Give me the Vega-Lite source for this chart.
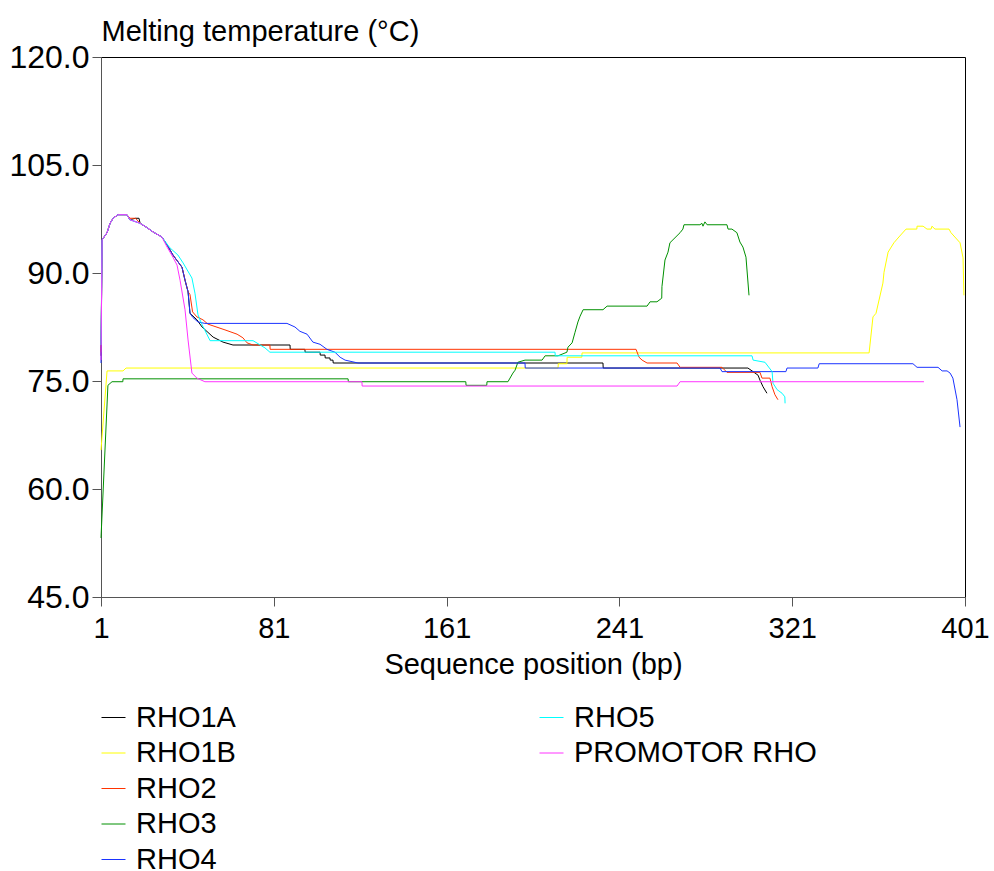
{
  "$schema": "https://vega.github.io/schema/vega-lite/v6.json",
  "width": 864,
  "height": 540,
  "autosize": {"type": "none"},
  "padding": {"left": 101, "top": 57, "right": 29, "bottom": 274},
  "config": {
    "view": {"stroke": "#000", "strokeWidth": 1},
    "font": "Liberation Sans",
    "axis": {"grid": false, "domainColor": "#555", "tickColor": "#555", "labelFont": "Liberation Sans", "labelFontSize": 29, "labelColor": "#000", "titleFont": "Liberation Sans", "titleFontSize": 29, "titleFontWeight": "normal", "titleColor": "#000", "tickSize": 9},
    "legend": {"symbolType": "stroke", "symbolSize": 576, "symbolStrokeWidth": 1, "labelFont": "Liberation Sans", "labelFontSize": 29, "labelColor": "#000", "rowPadding": 5.5, "labelOffset": 8, "labelLimit": 500, "title": null}
  },
  "datasets": {
    "tm": [
      {"s":"RHO1A","p":1,"t":78.5},{"s":"RHO1A","p":1.5,"t":94.6},{"s":"RHO1A","p":3.8,"t":95.6},{"s":"RHO1A","p":5.2,"t":96.9},{"s":"RHO1A","p":6.6,"t":97.6},{"s":"RHO1A","p":8.9,"t":98.1},{"s":"RHO1A","p":13.0,"t":98.1},{"s":"RHO1A","p":14.4,"t":97.4},{"s":"RHO1A","p":17.0,"t":97.6},{"s":"RHO1A","p":18.6,"t":97.6},{"s":"RHO1A","p":19.1,"t":96.9},{"s":"RHO1A","p":22.3,"t":96.3},{"s":"RHO1A","p":25.1,"t":95.7},{"s":"RHO1A","p":29.2,"t":95.0},{"s":"RHO1A","p":31.6,"t":93.9},{"s":"RHO1A","p":34.3,"t":92.5},{"s":"RHO1A","p":38.5,"t":90.8},{"s":"RHO1A","p":39.9,"t":89.0},{"s":"RHO1A","p":41.3,"t":87.4},{"s":"RHO1A","p":42.2,"t":84.4},{"s":"RHO1A","p":45.4,"t":83.5},{"s":"RHO1A","p":47.8,"t":82.5},{"s":"RHO1A","p":52.9,"t":81.1},{"s":"RHO1A","p":57.5,"t":80.4},{"s":"RHO1A","p":62.1,"t":80.0},{"s":"RHO1A","p":88.5,"t":80.0},{"s":"RHO1A","p":88.6,"t":79.4},{"s":"RHO1A","p":95.4,"t":79.4},{"s":"RHO1A","p":95.5,"t":79.0},{"s":"RHO1A","p":102.4,"t":79.0},{"s":"RHO1A","p":102.5,"t":78.6},{"s":"RHO1A","p":104.7,"t":78.6},{"s":"RHO1A","p":104.8,"t":78.2},{"s":"RHO1A","p":107.0,"t":78.2},{"s":"RHO1A","p":107.1,"t":77.9},{"s":"RHO1A","p":108.4,"t":77.9},{"s":"RHO1A","p":108.5,"t":77.5},{"s":"RHO1A","p":233.4,"t":77.5},{"s":"RHO1A","p":233.5,"t":76.8},{"s":"RHO1A","p":300.5,"t":76.8},{"s":"RHO1A","p":302.4,"t":76.4},{"s":"RHO1A","p":305.2,"t":75.8},{"s":"RHO1A","p":306.1,"t":75.1},{"s":"RHO1A","p":307.5,"t":74.2},{"s":"RHO1A","p":309.3,"t":73.3},

      {"s":"RHO1B","p":1,"t":65.4},{"s":"RHO1B","p":3.8,"t":76.4},{"s":"RHO1B","p":11.2,"t":76.4},{"s":"RHO1B","p":12.6,"t":76.8},{"s":"RHO1B","p":212.6,"t":76.8},{"s":"RHO1B","p":212.7,"t":77.4},{"s":"RHO1B","p":216.7,"t":77.4},{"s":"RHO1B","p":216.8,"t":78.3},{"s":"RHO1B","p":223.6,"t":78.3},{"s":"RHO1B","p":223.7,"t":78.9},{"s":"RHO1B","p":356.6,"t":78.9},{"s":"RHO1B","p":358.4,"t":83.9},{"s":"RHO1B","p":359.8,"t":84.4},{"s":"RHO1B","p":363.0,"t":88.6},{"s":"RHO1B","p":363.5,"t":90.1},{"s":"RHO1B","p":365.4,"t":92.9},{"s":"RHO1B","p":368.1,"t":94.2},{"s":"RHO1B","p":370.4,"t":95.0},{"s":"RHO1B","p":373.7,"t":96.1},{"s":"RHO1B","p":378.7,"t":96.1},{"s":"RHO1B","p":378.8,"t":96.5},{"s":"RHO1B","p":381.6,"t":96.5},{"s":"RHO1B","p":383.4,"t":96.1},{"s":"RHO1B","p":385.3,"t":96.1},{"s":"RHO1B","p":385.7,"t":96.5},{"s":"RHO1B","p":387.1,"t":96.1},{"s":"RHO1B","p":393.6,"t":96.1},{"s":"RHO1B","p":394.5,"t":95.6},{"s":"RHO1B","p":398.7,"t":94.2},{"s":"RHO1B","p":400.1,"t":92.1},{"s":"RHO1B","p":400.5,"t":86.9},

      {"s":"RHO2","p":1,"t":79.0},{"s":"RHO2","p":1.5,"t":94.6},{"s":"RHO2","p":3.8,"t":95.6},{"s":"RHO2","p":5.2,"t":96.9},{"s":"RHO2","p":6.6,"t":97.6},{"s":"RHO2","p":8.9,"t":98.1},{"s":"RHO2","p":13.0,"t":98.1},{"s":"RHO2","p":14.4,"t":97.6},{"s":"RHO2","p":17.0,"t":97.6},{"s":"RHO2","p":19.1,"t":96.9},{"s":"RHO2","p":22.3,"t":96.3},{"s":"RHO2","p":25.1,"t":95.7},{"s":"RHO2","p":29.2,"t":95.0},{"s":"RHO2","p":31.6,"t":93.9},{"s":"RHO2","p":34.3,"t":92.5},{"s":"RHO2","p":38.5,"t":90.8},{"s":"RHO2","p":39.9,"t":89.0},{"s":"RHO2","p":41.3,"t":87.4},{"s":"RHO2","p":42.2,"t":87.0},{"s":"RHO2","p":43.4,"t":84.6},{"s":"RHO2","p":45.4,"t":83.9},{"s":"RHO2","p":48.2,"t":83.5},{"s":"RHO2","p":50.5,"t":82.9},{"s":"RHO2","p":58.4,"t":82.1},{"s":"RHO2","p":64.0,"t":81.5},{"s":"RHO2","p":66.7,"t":81.0},{"s":"RHO2","p":68.6,"t":80.3},{"s":"RHO2","p":71.4,"t":80.0},{"s":"RHO2","p":79.2,"t":80.0},{"s":"RHO2","p":79.3,"t":79.4},{"s":"RHO2","p":248.7,"t":79.4},{"s":"RHO2","p":250.1,"t":78.3},{"s":"RHO2","p":251.5,"t":77.9},{"s":"RHO2","p":253.8,"t":77.5},{"s":"RHO2","p":267.7,"t":77.5},{"s":"RHO2","p":269.1,"t":76.9},{"s":"RHO2","p":288.5,"t":76.9},{"s":"RHO2","p":290.8,"t":76.2},{"s":"RHO2","p":306.1,"t":76.2},{"s":"RHO2","p":307.0,"t":75.4},{"s":"RHO2","p":310.7,"t":75.4},{"s":"RHO2","p":311.7,"t":74.2},{"s":"RHO2","p":313.0,"t":73.1},{"s":"RHO2","p":314.4,"t":72.4},

      {"s":"RHO3","p":1,"t":53.2},{"s":"RHO3","p":4.2,"t":74.4},{"s":"RHO3","p":6.1,"t":74.9},{"s":"RHO3","p":11.1,"t":74.9},{"s":"RHO3","p":11.2,"t":75.3},{"s":"RHO3","p":115.4,"t":75.3},{"s":"RHO3","p":115.5,"t":74.9},{"s":"RHO3","p":169.9,"t":74.9},{"s":"RHO3","p":170.0,"t":74.4},{"s":"RHO3","p":179.6,"t":74.4},{"s":"RHO3","p":179.7,"t":74.9},{"s":"RHO3","p":189.4,"t":74.9},{"s":"RHO3","p":191.7,"t":76.1},{"s":"RHO3","p":192.7,"t":76.5},{"s":"RHO3","p":194.0,"t":77.6},{"s":"RHO3","p":197.3,"t":77.9},{"s":"RHO3","p":205.2,"t":77.9},{"s":"RHO3","p":206.6,"t":78.5},{"s":"RHO3","p":212.6,"t":78.5},{"s":"RHO3","p":216.7,"t":79.0},{"s":"RHO3","p":217.2,"t":79.7},{"s":"RHO3","p":219.1,"t":80.3},{"s":"RHO3","p":220.4,"t":81.7},{"s":"RHO3","p":221.8,"t":83.2},{"s":"RHO3","p":222.8,"t":84.0},{"s":"RHO3","p":224.2,"t":84.9},{"s":"RHO3","p":233.4,"t":84.9},{"s":"RHO3","p":235.3,"t":85.4},{"s":"RHO3","p":253.8,"t":85.4},{"s":"RHO3","p":255.2,"t":86.0},{"s":"RHO3","p":258.4,"t":86.0},{"s":"RHO3","p":260.6,"t":86.5},{"s":"RHO3","p":260.7,"t":88.1},{"s":"RHO3","p":262.1,"t":91.8},{"s":"RHO3","p":263.5,"t":92.9},{"s":"RHO3","p":264.4,"t":94.2},{"s":"RHO3","p":269.1,"t":95.6},{"s":"RHO3","p":270.4,"t":96.1},{"s":"RHO3","p":270.9,"t":96.7},{"s":"RHO3","p":278.3,"t":96.7},{"s":"RHO3","p":279.2,"t":96.9},{"s":"RHO3","p":279.7,"t":96.5},{"s":"RHO3","p":280.6,"t":97.1},{"s":"RHO3","p":281.6,"t":96.7},{"s":"RHO3","p":290.8,"t":96.7},{"s":"RHO3","p":291.3,"t":96.1},{"s":"RHO3","p":293.1,"t":96.1},{"s":"RHO3","p":295.4,"t":95.6},{"s":"RHO3","p":296.8,"t":94.3},{"s":"RHO3","p":298.2,"t":93.6},{"s":"RHO3","p":299.6,"t":92.2},{"s":"RHO3","p":301.0,"t":86.9},

      {"s":"RHO4","p":1,"t":77.5},{"s":"RHO4","p":1.5,"t":94.6},{"s":"RHO4","p":3.8,"t":95.6},{"s":"RHO4","p":5.2,"t":96.9},{"s":"RHO4","p":6.6,"t":97.6},{"s":"RHO4","p":8.9,"t":98.1},{"s":"RHO4","p":13.0,"t":98.1},{"s":"RHO4","p":14.4,"t":97.4},{"s":"RHO4","p":19.1,"t":96.9},{"s":"RHO4","p":22.3,"t":96.3},{"s":"RHO4","p":25.1,"t":95.7},{"s":"RHO4","p":29.2,"t":95.0},{"s":"RHO4","p":31.6,"t":93.9},{"s":"RHO4","p":34.3,"t":92.5},{"s":"RHO4","p":38.5,"t":90.8},{"s":"RHO4","p":39.9,"t":89.0},{"s":"RHO4","p":41.3,"t":87.4},{"s":"RHO4","p":42.2,"t":84.4},{"s":"RHO4","p":43.6,"t":83.8},{"s":"RHO4","p":45.9,"t":83.2},{"s":"RHO4","p":49.1,"t":83.0},{"s":"RHO4","p":87.1,"t":83.0},{"s":"RHO4","p":90.8,"t":82.5},{"s":"RHO4","p":93.1,"t":81.9},{"s":"RHO4","p":96.4,"t":81.5},{"s":"RHO4","p":99.1,"t":80.4},{"s":"RHO4","p":102.4,"t":80.1},{"s":"RHO4","p":105.6,"t":79.4},{"s":"RHO4","p":109.3,"t":79.0},{"s":"RHO4","p":111.7,"t":78.3},{"s":"RHO4","p":114.0,"t":77.9},{"s":"RHO4","p":120.0,"t":77.5},{"s":"RHO4","p":197.3,"t":77.5},{"s":"RHO4","p":197.4,"t":76.8},{"s":"RHO4","p":287.6,"t":76.8},{"s":"RHO4","p":288.5,"t":76.3},{"s":"RHO4","p":318.1,"t":76.3},{"s":"RHO4","p":318.6,"t":76.8},{"s":"RHO4","p":332.9,"t":76.8},{"s":"RHO4","p":333.5,"t":77.4},{"s":"RHO4","p":376.9,"t":77.4},{"s":"RHO4","p":378.8,"t":76.9},{"s":"RHO4","p":388.5,"t":76.9},{"s":"RHO4","p":390.4,"t":76.4},{"s":"RHO4","p":392.7,"t":76.4},{"s":"RHO4","p":394.1,"t":76.1},{"s":"RHO4","p":395.4,"t":75.4},{"s":"RHO4","p":397.3,"t":72.4},{"s":"RHO4","p":398.7,"t":68.6},

      {"s":"RHO5","p":1,"t":80.0},{"s":"RHO5","p":1.5,"t":94.6},{"s":"RHO5","p":3.8,"t":95.6},{"s":"RHO5","p":5.2,"t":96.9},{"s":"RHO5","p":6.6,"t":97.6},{"s":"RHO5","p":8.9,"t":98.1},{"s":"RHO5","p":13.0,"t":98.1},{"s":"RHO5","p":14.4,"t":97.4},{"s":"RHO5","p":19.1,"t":96.9},{"s":"RHO5","p":22.3,"t":96.3},{"s":"RHO5","p":25.1,"t":95.7},{"s":"RHO5","p":29.2,"t":95.0},{"s":"RHO5","p":32.9,"t":93.5},{"s":"RHO5","p":36.6,"t":92.5},{"s":"RHO5","p":39.0,"t":91.4},{"s":"RHO5","p":43.1,"t":89.3},{"s":"RHO5","p":44.5,"t":87.2},{"s":"RHO5","p":45.9,"t":84.2},{"s":"RHO5","p":47.8,"t":82.8},{"s":"RHO5","p":51.5,"t":80.6},{"s":"RHO5","p":71.4,"t":80.6},{"s":"RHO5","p":76.9,"t":79.6},{"s":"RHO5","p":79.2,"t":79.0},{"s":"RHO5","p":211.2,"t":79.0},{"s":"RHO5","p":211.3,"t":78.5},{"s":"RHO5","p":302.4,"t":78.5},{"s":"RHO5","p":302.9,"t":77.9},{"s":"RHO5","p":308.4,"t":77.6},{"s":"RHO5","p":311.7,"t":76.3},{"s":"RHO5","p":312.1,"t":74.7},{"s":"RHO5","p":314.0,"t":73.8},{"s":"RHO5","p":316.3,"t":73.3},{"s":"RHO5","p":317.6,"t":72.8},{"s":"RHO5","p":317.7,"t":71.9},

      {"s":"PROMOTOR RHO","p":1,"t":77.9},{"s":"PROMOTOR RHO","p":1.5,"t":94.6},{"s":"PROMOTOR RHO","p":3.8,"t":95.6},{"s":"PROMOTOR RHO","p":5.2,"t":96.9},{"s":"PROMOTOR RHO","p":6.6,"t":97.6},{"s":"PROMOTOR RHO","p":8.9,"t":98.1},{"s":"PROMOTOR RHO","p":13.0,"t":98.1},{"s":"PROMOTOR RHO","p":14.4,"t":97.4},{"s":"PROMOTOR RHO","p":19.1,"t":96.9},{"s":"PROMOTOR RHO","p":22.3,"t":96.3},{"s":"PROMOTOR RHO","p":25.1,"t":95.7},{"s":"PROMOTOR RHO","p":29.2,"t":95.0},{"s":"PROMOTOR RHO","p":31.6,"t":93.6},{"s":"PROMOTOR RHO","p":34.3,"t":92.2},{"s":"PROMOTOR RHO","p":36.2,"t":91.1},{"s":"PROMOTOR RHO","p":37.6,"t":89.0},{"s":"PROMOTOR RHO","p":39.9,"t":84.9},{"s":"PROMOTOR RHO","p":41.3,"t":80.7},{"s":"PROMOTOR RHO","p":43.1,"t":76.1},{"s":"PROMOTOR RHO","p":45.4,"t":75.4},{"s":"PROMOTOR RHO","p":49.1,"t":74.9},{"s":"PROMOTOR RHO","p":121.8,"t":74.9},{"s":"PROMOTOR RHO","p":121.9,"t":74.3},{"s":"PROMOTOR RHO","p":267.7,"t":74.3},{"s":"PROMOTOR RHO","p":269.1,"t":74.9},{"s":"PROMOTOR RHO","p":382.0,"t":74.9}
    ]
  },
  "data": {"name": "tm"},
  "encoding": {
    "x": {"field": "p", "type": "quantitative", "scale": {"domain": [1, 401], "nice": false, "zero": false},
          "axis": {"values": [1, 81, 161, 241, 321, 401], "title": "Sequence position (bp)", "labelPadding": 8, "titlePadding": 7, "labelFlush": false}},
    "y": {"field": "t", "type": "quantitative", "scale": {"domain": [45, 120], "nice": false, "zero": false},
          "axis": {"values": [45, 60, 75, 90, 105, 120], "format": ".1f", "labelFontSize": 32, "title": "Melting temperature (°C)", "titleAngle": 0, "titleAlign": "left", "titleBaseline": "alphabetic", "titleX": 0, "titleY": -17, "labelPadding": 3}}
  },
  "layer": [
    {
      "transform": [{"filter": {"field": "s", "oneOf": ["RHO1A", "RHO1B", "RHO2", "RHO3", "RHO4"]}}],
      "mark": {"type": "line", "strokeWidth": 1, "interpolate": "linear"},
      "encoding": {
        "stroke": {"field": "s", "type": "nominal",
                  "scale": {"domain": ["RHO1A", "RHO1B", "RHO2", "RHO3", "RHO4"], "range": ["#000000", "#ffff00", "#ff3300", "#009000", "#1a33ff"]},
                  "legend": {"orient": "none", "legendX": -2, "legendY": 646}}
      }
    },
    {
      "transform": [{"filter": {"field": "s", "oneOf": ["RHO5", "PROMOTOR RHO"]}}],
      "mark": {"type": "line", "strokeWidth": 1, "interpolate": "linear"},
      "encoding": {
        "color": {"field": "s", "type": "nominal",
                  "scale": {"domain": ["RHO5", "PROMOTOR RHO"], "range": ["#00ffff", "#ff33ff"]},
                  "legend": {"orient": "none", "legendX": 436, "legendY": 646}}
      }
    }
  ]
}
